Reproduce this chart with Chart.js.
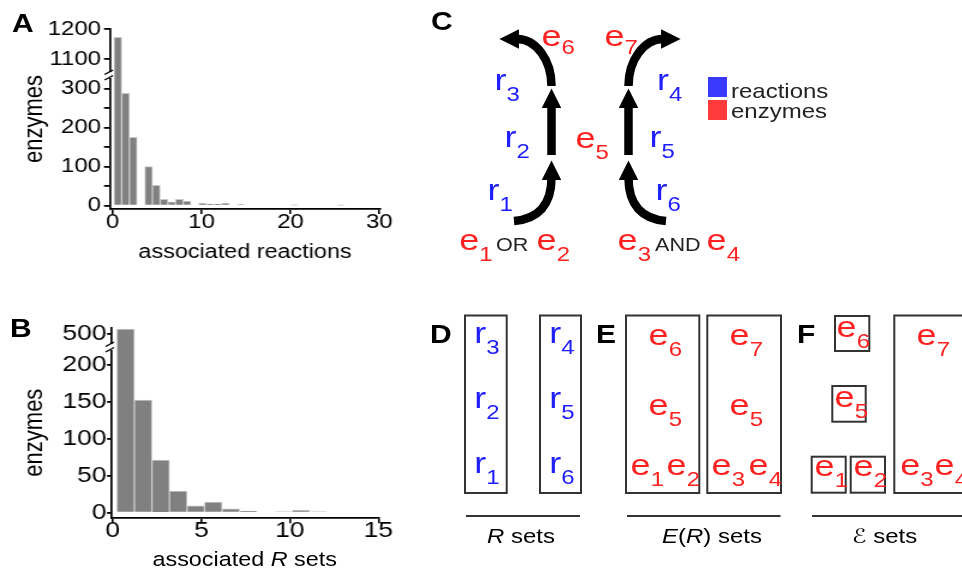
<!DOCTYPE html>
<html>
<head>
<meta charset="utf-8">
<script src="https://cdn.jsdelivr.net/npm/chart.js@4.4.1/dist/chart.umd.min.js"></script>
<style>
  body { margin: 0; background: #fff; }
  #wrap { position: relative; width: 962px; height: 578px; overflow: hidden; }
  canvas { position: absolute; left: 0; }
  #fig { position: absolute; left: 0; top: 0; }
</style>
</head>
<body>
<div id="wrap">
  <canvas id="a1" width="340" height="75" style="top:0px"></canvas>
  <canvas id="a2" width="340" height="230" style="top:60px"></canvas>
  <canvas id="b1" width="340" height="47" style="top:300px"></canvas>
  <canvas id="b2" width="340" height="246" style="top:332px"></canvas>
  <svg id="fig" width="962" height="578"></svg>
</div>
<script>
// histogram A : enzymes per number of associated reactions
const binStartA = 0.15, binWidthA = 0.865;
const countsA = [1173, 288, 175, 0, 100, 52, 16, 10, 16, 12,
                 0, 6, 4, 4, 6, 0, 3, 0, 0, 0,
                 0, 0, 0, 1, 0, 0, 0, 0, 0, 1];
const xTicksA = [0, 10, 20, 30];
const yTicksATop = [1100, 1200];
const yTicksABottom = [0, 50, 100, 150, 200, 250, 300];
const yLabelsA = [0, 100, 200, 300, 1100, 1200];

// histogram B : enzymes per number of associated R sets
const binStartB = 0.23, binWidthB = 0.99;
const countsB = [512, 152, 71, 29, 9, 14, 5, 2, 0, 1, 3, 1];
const xTicksB = [0, 5, 10, 15];
const yTicksBTop = [500];
const yTicksBBottom = [0, 50, 100, 150, 200];
const yLabelsB = [0, 50, 100, 150, 200, 500];

const FONT = "'Liberation Sans', Arial, Helvetica, sans-serif";
const K = 1.2; // the figure is drawn a little wider than tall

// the // mark on a broken y axis
const axisBreak = {
  id: 'axisBreak',
  afterDraw(chart) {
    const { ctx, chartArea: a } = chart;
    const x = a.left, y = a.top;
    ctx.save();
    ctx.fillStyle = '#fff';
    ctx.fillRect(x - 3, y - 3, 5, 6);
    ctx.strokeStyle = '#000';
    ctx.lineWidth = 1.4;
    ctx.beginPath();
    ctx.moveTo(x - 4.5, y - 0.5); ctx.lineTo(x + 2.5, y - 5);
    ctx.moveTo(x - 4.5, y + 5); ctx.lineTo(x + 2.5, y + 0.5);
    ctx.stroke();
    ctx.restore();
  }
};

function hist(id, p) {
  const cv = document.getElementById(id);
  cv.style.width = (cv.width * K) + 'px';
  cv.style.height = cv.height + 'px';
  const top = parseFloat(cv.style.top) || 0;
  const padTop = p.areaTop - top;
  const padBottom = top + cv.height - p.areaBottom - (p.xAxisH || 0);
  const pts = p.counts.map((c, i) => ({ x: p.binStart + p.binWidth * (i + 0.5), y: c > 0 ? c : null }));
  return new Chart(cv, {
    type: 'bar',
    data: {
      datasets: [{
        data: pts,
        backgroundColor: '#808080',
        borderColor: '#c8c8c8',
        borderWidth: 1,
        barPercentage: 1,
        categoryPercentage: 1,
        clip: 0
      }]
    },
    options: {
      responsive: false,
      animation: false,
      events: [],
      layout: { padding: { left: 0, right: cv.width - p.areaRight / K, top: padTop, bottom: padBottom } },
      plugins: { legend: { display: false }, tooltip: { enabled: false } },
      scales: {
        x: {
          type: 'linear',
          offset: false,
          min: p.xMin, max: p.xMax,
          display: !!p.xTicks,
          afterBuildTicks: s => { s.ticks = (p.xTicks || []).map(v => ({ value: v })); },
          afterFit: s => { if (p.xAxisH) s.height = p.xAxisH; },
          grid: { offset: false, drawOnChartArea: false, tickLength: 5, color: '#000', lineWidth: 1.6 },
          border: { color: '#000', width: 1.8 },
          ticks: { color: '#000', font: { family: FONT, size: p.tickSize, lineHeight: 1 }, padding: p.xTickPad, maxRotation: 0, autoSkip: false },
          title: p.xTitle
            ? { display: true, text: p.xTitle, color: '#000', font: { family: FONT, size: 19.5, lineHeight: 1.2 }, padding: 0 }
            : { display: false }
        },
        y: {
          min: p.yMin, max: p.yMax,
          afterBuildTicks: s => { s.ticks = p.yTicks.map(v => ({ value: v })); },
          afterFit: s => { s.width = p.areaLeft / K; s.paddingTop = 0; s.paddingBottom = 0; },
          grid: { drawOnChartArea: false, tickLength: p.yTickLen / K, color: '#000', lineWidth: 1.8 },
          border: { color: '#000', width: 1.7 },
          ticks: {
            color: '#000', font: { family: FONT, size: p.tickSize }, padding: p.yTickPad / K, autoSkip: false,
            callback: v => p.yLabels.includes(v) ? String(v) : ''
          },
          title: p.yTitle
            ? { display: true, text: p.yTitle, align: p.yTitleAlign, color: '#000', font: { family: FONT, size: 22, lineHeight: 1.2 }, padding: { top: 16 } }
            : { display: false }
        }
      }
    },
    plugins: p.brk ? [axisBreak] : []
  });
}

hist('a1', {
  counts: countsA, binStart: binStartA, binWidth: binWidthA,
  areaTop: 29, areaBottom: 75, areaLeft: 110, areaRight: 380,
  xMin: -0.3, xMax: 30.08, yMin: 1047, yMax: 1201,
  yTicks: yTicksATop, yLabels: yLabelsA, tickSize: 20, yTickLen: 6, yTickPad: 3
});
hist('a2', {
  counts: countsA, binStart: binStartA, binWidth: binWidthA,
  areaTop: 75, areaBottom: 209, areaLeft: 110, areaRight: 380, xAxisH: 55.7,
  xMin: -0.3, xMax: 30.08, yMin: -8.5, yMax: 335,
  yTicks: yTicksABottom, yLabels: yLabelsA, tickSize: 20, yTickLen: 6, yTickPad: 3,
  xTicks: xTicksA, xTickPad: -2, xTitle: 'associated reactions',
  yTitle: 'enzymes', yTitleAlign: 'end', brk: true
});
hist('b1', {
  counts: countsB, binStart: binStartB, binWidth: binWidthB,
  areaTop: 328, areaBottom: 347, areaLeft: 111, areaRight: 378.4,
  xMin: -0.1, xMax: 15, yMin: 465, yMax: 515,
  yTicks: yTicksBTop, yLabels: yLabelsB, tickSize: 22, yTickLen: 4, yTickPad: 0.5
});
hist('b2', {
  counts: countsB, binStart: binStartB, binWidth: binWidthB,
  areaTop: 347, areaBottom: 518.3, areaLeft: 111, areaRight: 378.4, xAxisH: 40,
  xMin: -0.1, xMax: 15, yMin: -7.8, yMax: 223.6,
  yTicks: yTicksBBottom, yLabels: yLabelsB, tickSize: 22, yTickLen: 4, yTickPad: 0.5,
  xTicks: xTicksB, xTickPad: -3.5,
  yTitle: 'enzymes', yTitleAlign: 'center', brk: true
});

// ---- schematic panels C-F (svg) ----
const RED = '#ff2020', BLUE = '#2020ff';
function txt(x, y, inner, attrs) {
  return `<text transform="translate(${x},${y}) scale(${K},1)" ${attrs || ''}>${inner}</text>`;
}
function lab(x, y, main, sub, color, dy) {
  return txt(x, y, `${main}<tspan font-size="20" dy="${dy || 11}">${sub}</tspan>`, `fill="${color}" font-size="30"`);
}
let s = `<defs><marker id="ah" viewBox="0 0 10 10" refX="1" refY="5" markerWidth="2.3" markerHeight="2.3" orient="auto"><path d="M0,0L10,5L0,10z" fill="#000"/></marker></defs>`;
s += `<g font-family="${FONT}">`;
// panel letters
s += `<g font-weight="bold" font-size="25" fill="#000">` +
  txt(12, 32, 'A') + txt(10, 337, 'B') + txt(431, 30, 'C') +
  txt(430, 343, 'D') + txt(596, 343, 'E') + txt(797, 343, 'F') + `</g>`;
// B x title with italic R
s += txt(244.7, 566, `associated <tspan font-style="italic">R</tspan> sets`, `text-anchor="middle" font-size="19.5" fill="#000"`);

// C arrows
s += `<g fill="none" stroke="#000" stroke-width="8.5">
  <path d="M551.5,86 C551.5,60 536,39 517,39" marker-end="url(#ah)"/>
  <path d="M551.5,155 L551.5,106" marker-end="url(#ah)"/>
  <path d="M514,221 C538,219 551.5,205 551.5,178" marker-end="url(#ah)"/>
  <path d="M628.5,86 C628.5,60 644,39 663,39" marker-end="url(#ah)"/>
  <path d="M628.5,155 L628.5,106" marker-end="url(#ah)"/>
  <path d="M666,221 C642,219 628.5,205 628.5,178" marker-end="url(#ah)"/></g>`;
// C labels
const cLabels = [
  [541.5, 46, 'e', '6', RED, 8], [604.5, 46, 'e', '7', RED, 8],
  [494.5, 90, 'r', '3', BLUE], [657, 90, 'r', '4', BLUE],
  [504.5, 147, 'r', '2', BLUE], [575.5, 148, 'e', '5', RED], [649.5, 147, 'r', '5', BLUE],
  [487.5, 200, 'r', '1', BLUE], [655.5, 200, 'r', '6', BLUE],
  [459.3, 250, 'e', '1', RED], [536.6, 250, 'e', '2', RED],
  [617.6, 250, 'e', '3', RED], [706.6, 250, 'e', '4', RED]
];
cLabels.forEach(l => { s += lab(l[0], l[1], l[2], l[3], l[4], l[5]); });
s += txt(496, 251, 'OR', `font-size="18" fill="#222"`);
s += txt(655, 251, 'AND', `font-size="18" fill="#222"`);
// legend
s += `<rect x="708" y="77" width="19" height="20" fill="#3a3aff"/>
  <rect x="708" y="100" width="19" height="20" fill="#ff3a3a"/>`;
s += txt(731, 98, 'reactions', `font-size="20" fill="#222"`);
s += txt(731, 118, 'enzymes', `font-size="20" fill="#222"`);

// D-F boxes
const boxes = [
  [465, 315.5, 41.7, 177.5], [540, 315.5, 41, 177.5],
  [626, 315.5, 73.3, 177.5], [707.3, 315.5, 73.7, 177.5],
  [835, 316, 34.3, 35], [832.3, 386, 33.4, 35.7], [811.7, 456.7, 34, 36], [850.7, 456.7, 34.3, 36],
  [894.3, 315.5, 90, 177.5]
];
s += `<g fill="none" stroke="#333" stroke-width="2">`;
boxes.forEach(b => { s += `<rect x="${b[0]}" y="${b[1]}" width="${b[2]}" height="${b[3]}"/>`; });
s += `<line x1="466" y1="516" x2="580" y2="516"/><line x1="627" y1="516" x2="780.5" y2="516"/><line x1="812" y1="516" x2="962" y2="516"/></g>`;
const dLabels = [
  [474.3, 343.3, 'r', '3', BLUE], [474.3, 408.3, 'r', '2', BLUE], [474.3, 473.3, 'r', '1', BLUE],
  [549.3, 343.3, 'r', '4', BLUE], [549.3, 408.3, 'r', '5', BLUE], [549.3, 473.3, 'r', '6', BLUE],
  [648.6, 345, 'e', '6', RED], [648.6, 415, 'e', '5', RED], [630.6, 475, 'e', '1', RED], [666.6, 475, 'e', '2', RED],
  [729.6, 345, 'e', '7', RED], [729.6, 415, 'e', '5', RED], [711.6, 475, 'e', '3', RED], [748.6, 475, 'e', '4', RED],
  [836.6, 337, 'e', '6', RED], [834.6, 407, 'e', '5', RED], [814.6, 476, 'e', '1', RED], [853.6, 476, 'e', '2', RED],
  [916.6, 345, 'e', '7', RED], [900.3, 475, 'e', '3', RED], [934.6, 475, 'e', '4', RED]
];
dLabels.forEach(l => { s += lab(l[0], l[1], l[2], l[3], l[4]); });
s += `<g font-size="20" fill="#000">` +
  txt(487, 543, `<tspan font-style="italic">R</tspan> sets`) +
  txt(662, 543, `<tspan font-style="italic">E</tspan>(<tspan font-style="italic">R</tspan>) sets`) +
  txt(852, 543, `<tspan font-family="'DejaVu Sans', sans-serif" font-style="italic">ℰ</tspan> sets`) +
  `</g>`;
s += `</g>`;
document.getElementById('fig').innerHTML = s;
</script>
</body>
</html>
